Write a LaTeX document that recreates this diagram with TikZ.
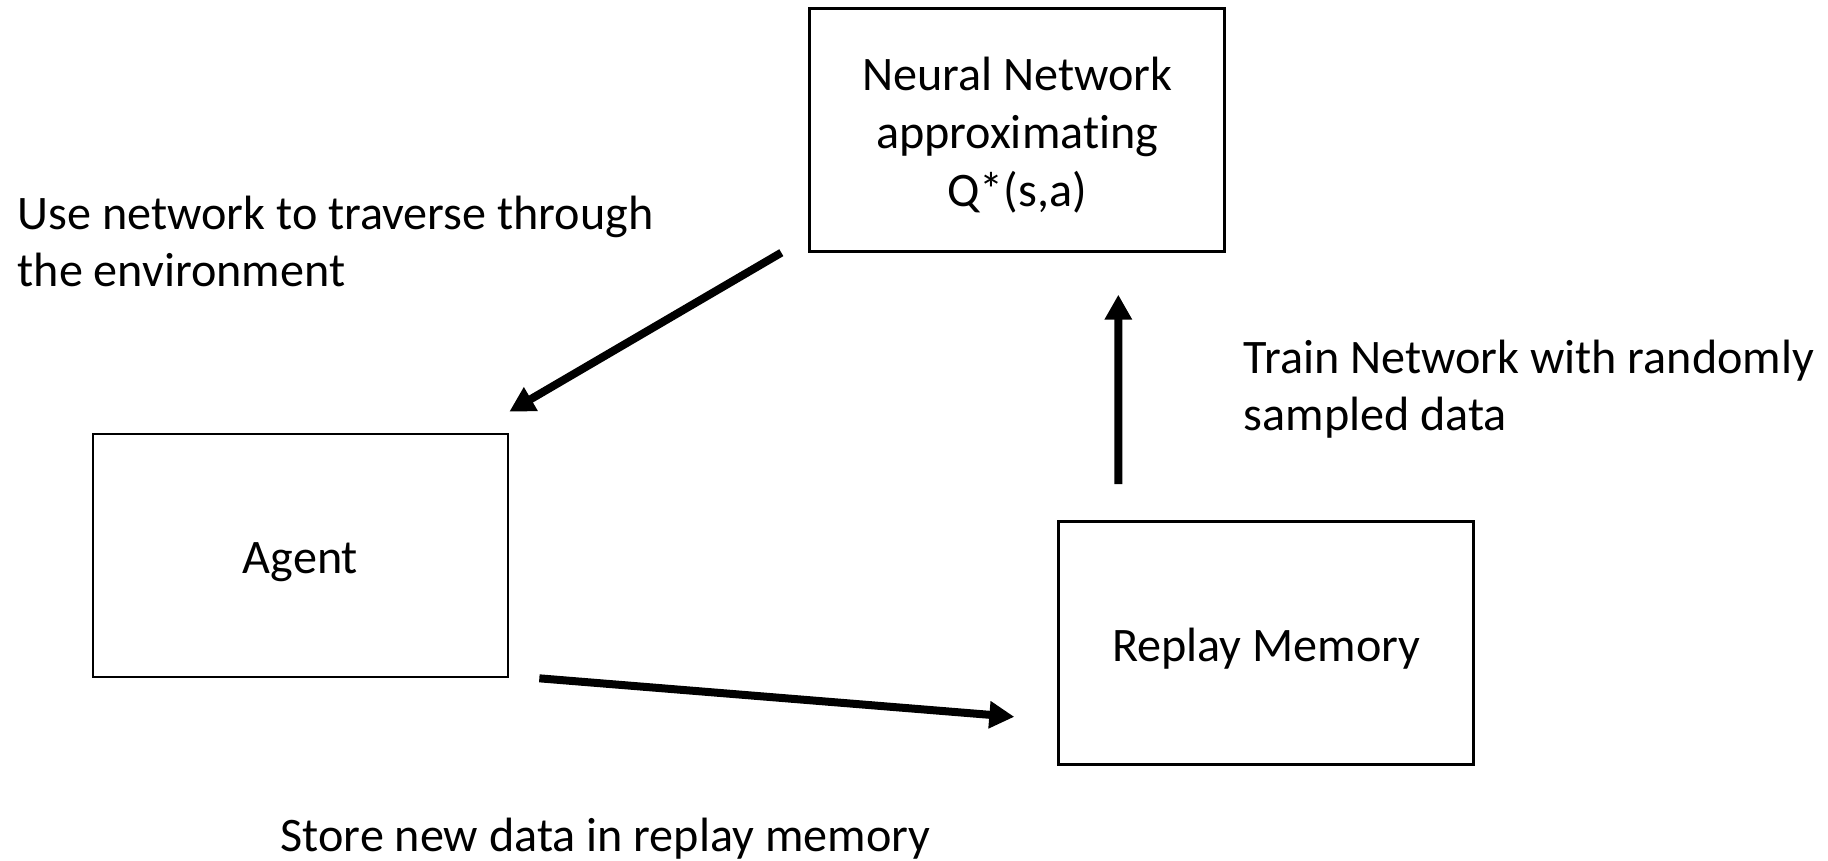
\documentclass[tikz,border=0pt]{standalone}
\usepackage{fontspec}
\setmainfont{Carlito}[Ligatures=NoCommon]
\usetikzlibrary{arrows.meta,positioning}

\begin{document}
\begin{tikzpicture}[auto,
    font=\fontsize{13.7}{16.4}\selectfont,
    block/.style={draw,line width=0.75pt,minimum width=4.15cm,minimum height=2.43cm,align=center,inner sep=0pt,text height=0.44cm},
    note/.style={align=left,inner sep=0pt,anchor=north west},
    flow/.style={line width=0.08cm,-{Triangle[length=0.25cm,width=0.26cm]}}]
  % Fix the page to the size of the original drawing.
  \useasboundingbox (0,0) rectangle (18.28,-8.61);
  % The agent sits on the left, the two other blocks are placed
  % relative to it.
  \node[block] (agent) at (3.005,-5.555) {Agent};
  \node[block,text height=1.59cm] (nn) [above right=1.80cm and 2.99cm of agent] {Neural Network\\approximating\\Q*(s,a)};
  \node[block] (replay) [right=5.48cm of agent,yshift=-0.875cm] {Replay Memory};
  % Texts that go with the arrows
  \node[note] (use) at (0.17,-1.95) {Use network to traverse through\\the environment};
  \node[note] (train) at (12.43,-3.39) {Train Network with randomly\\sampled data};
  \node[note] (store) at (2.80,-8.17) {Store new data in replay memory};
  % Now the arrows between the blocks
  \draw[flow] ([xshift=-0.27cm]nn.south west) -- ([yshift=0.21cm]agent.north east);
  \draw[flow] ([xshift=0.30cm]agent.south east) -- ([xshift=-0.43cm,yshift=0.49cm]replay.south west);
  \draw[flow] ([xshift=0.61cm,yshift=0.36cm]replay.north west) -- ([xshift=3.10cm,yshift=-0.42cm]nn.south west);
\end{tikzpicture}
\end{document}
